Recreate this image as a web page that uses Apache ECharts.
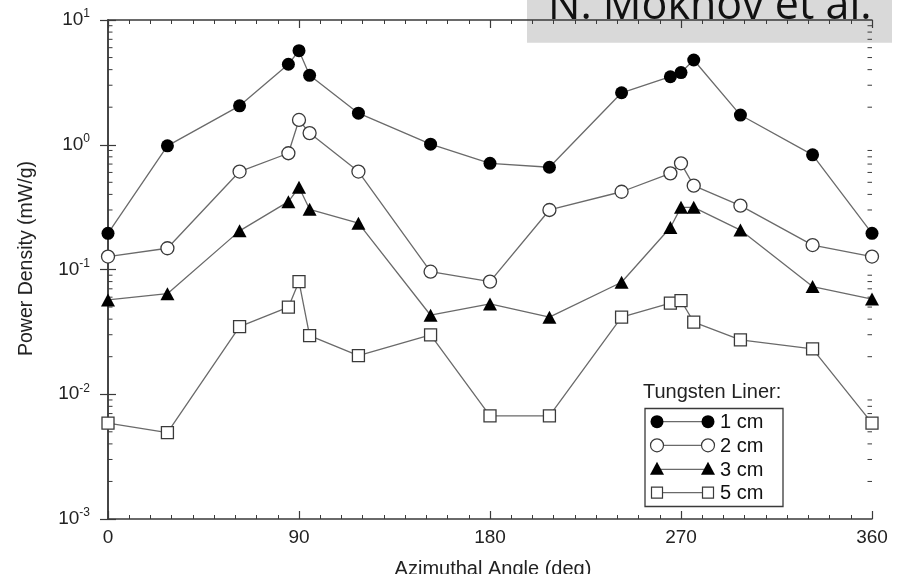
<!DOCTYPE html>
<html>
<head>
<meta charset="utf-8">
<script src="https://cdn.jsdelivr.net/npm/echarts@6/dist/echarts.min.js"></script>
<style>
  html, body { margin: 0; padding: 0; background: #ffffff; }
  #chart { width: 902px; height: 574px; }
</style>
</head>
<body>
<div id="chart"></div>
<script>
// Azimuthal angle of each sample (deg)
const angles = [0, 28, 62, 85, 90, 95, 118, 152, 180, 208, 242, 265, 270, 276, 298, 332, 360];
// Power density (mW/g) for each tungsten liner thickness
const liner1cm = [0.195, 0.98, 2.05, 4.42, 5.68, 3.6, 1.79, 1.01, 0.71, 0.66, 2.61, 3.51, 3.79, 4.78, 1.73, 0.83, 0.195];
const liner2cm = [0.127, 0.148, 0.61, 0.855, 1.58, 1.24, 0.61, 0.096, 0.08, 0.30, 0.42, 0.59, 0.71, 0.47, 0.325, 0.157, 0.127];
const liner3cm = [0.057, 0.064, 0.204, 0.35, 0.456, 0.304, 0.235, 0.043, 0.053, 0.0415, 0.079, 0.217, 0.315, 0.315, 0.207, 0.073, 0.058];
const liner5cm = [0.00586, 0.00493, 0.0349, 0.0499, 0.080, 0.0295, 0.0204, 0.0299, 0.0067, 0.0067, 0.0415, 0.0537, 0.0564, 0.0379, 0.0273, 0.0231, 0.00586];
const seriesNames = ['1 cm', '2 cm', '3 cm', '5 cm'];
// Minor tick values on the logarithmic axis (2..9 in each decade)
const minorTickValues = [];
[0.001, 0.01, 0.1, 1].forEach(function (d) {
  for (let k = 2; k <= 9; k++) minorTickValues.push(+(d * k).toPrecision(3));
});

const AXIS = '#3a3a3a';
const LINE = '#6a6a6a';
const FONT = 'Liberation Sans, Arial, sans-serif';

const chart = echarts.init(document.getElementById('chart'), null, { renderer: 'canvas' });

function pairs(vals) { return angles.map(function (a, i) { return [a, vals[i]]; }); }

function supLabel(v) {
  const e = Math.round(Math.log10(v));
  return '{b|10}{s|' + e + '}';
}

const xCommon = {
  type: 'value', min: 0, max: 360, interval: 90,
  axisLine: { show: true, lineStyle: { color: AXIS, width: 1.5 } },
  axisTick: { show: true, inside: true, length: 8, lineStyle: { color: AXIS, width: 1.2 } },
  minorTick: { show: true, splitNumber: 9, length: 4, lineStyle: { color: AXIS, width: 1 } },
  splitLine: { show: false }, minorSplitLine: { show: false }
};
const yCommon = {
  type: 'log', logBase: 10, min: 0.001, max: 10,
  axisLine: { show: true, lineStyle: { color: AXIS, width: 1.5 } },
  axisTick: { show: true, inside: true, length: 8, lineStyle: { color: AXIS, width: 1.2 } },
  splitLine: { show: false }
};

function lineSeries(name, vals, symbol, size, fill) {
  return {
    name: name, type: 'line', data: pairs(vals),
    xAxisIndex: 0, yAxisIndex: 0,
    symbol: symbol, symbolSize: size, showAllSymbol: true,
    lineStyle: { color: LINE, width: 1.3 },
    itemStyle: { color: fill, borderColor: '#3a3a3a', borderWidth: fill === '#ffffff' ? 1.3 : 0 },
    emphasis: { disabled: true },
    z: 3
  };
}

// Legend drawn as a boxed key with a marker at both ends of each line
const legendRows = [
  { y: 421.7, kind: 'circle', fill: '#000000' },
  { y: 445.3, kind: 'circle', fill: '#ffffff' },
  { y: 469.3, kind: 'triangle', fill: '#000000' },
  { y: 492.7, kind: 'rect', fill: '#ffffff' }
];
function legendMarker(kind, fill, cx, cy) {
  const stroke = fill === '#ffffff' ? '#3a3a3a' : null;
  const st = { fill: fill, stroke: stroke, lineWidth: 1.2 };
  if (kind === 'circle') return { type: 'circle', shape: { cx: cx, cy: cy, r: 6.5 }, style: st };
  if (kind === 'triangle') return { type: 'polygon', shape: { points: [[cx, cy - 7.5], [cx + 7, cy + 5.5], [cx - 7, cy + 5.5]] }, style: st };
  return { type: 'rect', shape: { x: cx - 5.5, y: cy - 5.5, width: 11, height: 11 }, style: st };
}
const legendChildren = [
  { type: 'text', style: { x: 643, y: 392.7, text: 'Tungsten Liner:', font: '20px ' + FONT, fill: '#222', verticalAlign: 'middle', align: 'left' } },
  { type: 'rect', shape: { x: 645, y: 408.5, width: 138, height: 98 }, style: { fill: '#ffffff', stroke: '#3a3a3a', lineWidth: 1.3 } }
];
legendRows.forEach(function (r, i) {
  legendChildren.push({ type: 'line', shape: { x1: 657, y1: r.y, x2: 708, y2: r.y }, style: { stroke: LINE, lineWidth: 1.3 } });
  legendChildren.push(legendMarker(r.kind, r.fill, 657, r.y));
  legendChildren.push(legendMarker(r.kind, r.fill, 708, r.y));
  legendChildren.push({ type: 'text', style: { x: 720, y: r.y + 1, text: seriesNames[i], font: '20px ' + FONT, fill: '#111', verticalAlign: 'middle', align: 'left' } });
});

const option = {
  backgroundColor: '#ffffff',
  animation: false,
  grid: { left: 108, right: 30, top: 20, bottom: 55, containLabel: false },
  xAxis: [
    Object.assign({}, xCommon, {
      position: 'bottom',
      axisLabel: { show: true, margin: 9, color: '#222', fontFamily: FONT, fontSize: 19 }
    }),
    Object.assign({}, xCommon, { position: 'top', axisLabel: { show: false } })
  ],
  yAxis: [
    Object.assign({}, yCommon, {
      position: 'left',
      axisLabel: {
        show: true, margin: 18, color: '#222', formatter: supLabel,
        rich: {
          b: { fontFamily: FONT, fontSize: 19, lineHeight: 24, color: '#222' },
          s: { fontFamily: FONT, fontSize: 12, lineHeight: 12, color: '#222', verticalAlign: 'top' }
        }
      }
    }),
    Object.assign({}, yCommon, { position: 'right', axisLabel: { show: false } })
  ],
  series: [
    lineSeries(seriesNames[0], liner1cm, 'circle', 13, '#000000'),
    lineSeries(seriesNames[1], liner2cm, 'circle', 13, '#ffffff'),
    lineSeries(seriesNames[2], liner3cm, 'triangle', [14, 13], '#000000'),
    lineSeries(seriesNames[3], liner5cm, 'rect', 12, '#ffffff'),
    {
      // short inward minor ticks on the left and right log axes
      type: 'custom', silent: true, clip: false, z: 2,
      data: minorTickValues.map(function (v) { return [0, v]; }),
      renderItem: function (params, api) {
        const v = api.value(1);
        const l = api.coord([0, v]);
        const r = api.coord([360, v]);
        return {
          type: 'group',
          children: [
            { type: 'line', shape: { x1: l[0], y1: l[1], x2: l[0] + 4.5, y2: l[1] }, style: { stroke: AXIS, lineWidth: 1 } },
            { type: 'line', shape: { x1: r[0], y1: r[1], x2: r[0] - 4.5, y2: r[1] }, style: { stroke: AXIS, lineWidth: 1 } }
          ]
        };
      }
    }
  ],
  graphic: [
    {
      type: 'text', x: 27, y: 258.5, rotation: Math.PI / 2,
      style: { text: 'Power Density (mW/g)', font: '19.5px ' + FONT, fill: '#222', align: 'center', verticalAlign: 'middle' }
    },
    {
      type: 'text', x: 493, y: 569,
      style: { text: 'Azimuthal Angle (deg)', font: '20px ' + FONT, fill: '#222', align: 'center', verticalAlign: 'middle' }
    },
    { type: 'group', z: 50, children: legendChildren },
    {
      type: 'group', z: 100,
      children: [
        { type: 'rect', shape: { x: 527, y: -5, width: 365, height: 47.7 }, style: { fill: '#d9d9d9' } },
        { type: 'text', style: { x: 548, y: -15, text: 'N. Mokhov et al.', font: '43px "Open Sans", sans-serif', fill: '#111', verticalAlign: 'top', align: 'left' } }
      ]
    }
  ]
};

chart.setOption(option);
</script>
</body>
</html>
